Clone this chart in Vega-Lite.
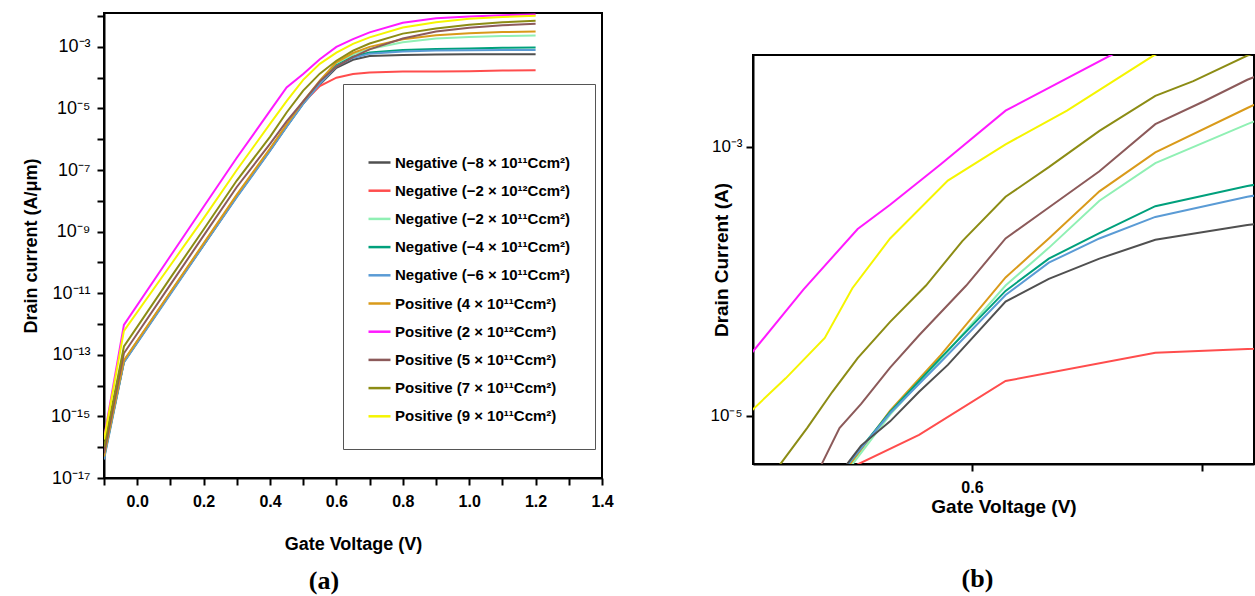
{
  "$schema": "https://vega.github.io/schema/vega-lite/v6.json",
  "padding": {"left": 21, "top": 6, "right": 0, "bottom": 0},
  "config": {
    "font": "Liberation Sans",
    "view": {"stroke": "black", "strokeWidth": 2},
    "axis": {"domainColor": "black", "domainWidth": 2, "tickColor": "black", "tickWidth": 2, "tickSize": 7, "grid": false, "labelColor": "black", "titleColor": "black", "labelFont": "Liberation Sans", "titleFont": "Liberation Sans", "labelOverlap": false, "labelFlush": false}
  },
  "datasets": {
    "a": [
      {"series": "Negative (−8 × 10¹¹Ccm²)", "v": -0.1, "log_i": -16.3}, {"series": "Negative (−8 × 10¹¹Ccm²)", "v": -0.04, "log_i": -13.23}, {"series": "Negative (−8 × 10¹¹Ccm²)", "v": 0.1, "log_i": -11.0}, {"series": "Negative (−8 × 10¹¹Ccm²)", "v": 0.2, "log_i": -9.43}, {"series": "Negative (−8 × 10¹¹Ccm²)", "v": 0.3, "log_i": -7.86}, {"series": "Negative (−8 × 10¹¹Ccm²)", "v": 0.4, "log_i": -6.36}, {"series": "Negative (−8 × 10¹¹Ccm²)", "v": 0.45, "log_i": -5.58}, {"series": "Negative (−8 × 10¹¹Ccm²)", "v": 0.5, "log_i": -4.84}, {"series": "Negative (−8 × 10¹¹Ccm²)", "v": 0.55, "log_i": -4.22}, {"series": "Negative (−8 × 10¹¹Ccm²)", "v": 0.6, "log_i": -3.68}, {"series": "Negative (−8 × 10¹¹Ccm²)", "v": 0.65, "log_i": -3.42}, {"series": "Negative (−8 × 10¹¹Ccm²)", "v": 0.7, "log_i": -3.3}, {"series": "Negative (−8 × 10¹¹Ccm²)", "v": 0.8, "log_i": -3.26}, {"series": "Negative (−8 × 10¹¹Ccm²)", "v": 0.9, "log_i": -3.25}, {"series": "Negative (−8 × 10¹¹Ccm²)", "v": 1.0, "log_i": -3.24}, {"series": "Negative (−8 × 10¹¹Ccm²)", "v": 1.1, "log_i": -3.24}, {"series": "Negative (−8 × 10¹¹Ccm²)", "v": 1.2, "log_i": -3.24},
      {"series": "Negative (−2 × 10¹²Ccm²)", "v": -0.1, "log_i": -16.28}, {"series": "Negative (−2 × 10¹²Ccm²)", "v": -0.04, "log_i": -13.2}, {"series": "Negative (−2 × 10¹²Ccm²)", "v": 0.1, "log_i": -10.98}, {"series": "Negative (−2 × 10¹²Ccm²)", "v": 0.2, "log_i": -9.42}, {"series": "Negative (−2 × 10¹²Ccm²)", "v": 0.3, "log_i": -7.85}, {"series": "Negative (−2 × 10¹²Ccm²)", "v": 0.4, "log_i": -6.33}, {"series": "Negative (−2 × 10¹²Ccm²)", "v": 0.45, "log_i": -5.55}, {"series": "Negative (−2 × 10¹²Ccm²)", "v": 0.5, "log_i": -4.82}, {"series": "Negative (−2 × 10¹²Ccm²)", "v": 0.55, "log_i": -4.27}, {"series": "Negative (−2 × 10¹²Ccm²)", "v": 0.6, "log_i": -4.0}, {"series": "Negative (−2 × 10¹²Ccm²)", "v": 0.65, "log_i": -3.88}, {"series": "Negative (−2 × 10¹²Ccm²)", "v": 0.7, "log_i": -3.83}, {"series": "Negative (−2 × 10¹²Ccm²)", "v": 0.8, "log_i": -3.8}, {"series": "Negative (−2 × 10¹²Ccm²)", "v": 0.9, "log_i": -3.8}, {"series": "Negative (−2 × 10¹²Ccm²)", "v": 1.0, "log_i": -3.79}, {"series": "Negative (−2 × 10¹²Ccm²)", "v": 1.1, "log_i": -3.77}, {"series": "Negative (−2 × 10¹²Ccm²)", "v": 1.2, "log_i": -3.76},
      {"series": "Negative (−2 × 10¹¹Ccm²)", "v": -0.1, "log_i": -16.32}, {"series": "Negative (−2 × 10¹¹Ccm²)", "v": -0.04, "log_i": -13.2}, {"series": "Negative (−2 × 10¹¹Ccm²)", "v": 0.1, "log_i": -10.98}, {"series": "Negative (−2 × 10¹¹Ccm²)", "v": 0.2, "log_i": -9.4}, {"series": "Negative (−2 × 10¹¹Ccm²)", "v": 0.3, "log_i": -7.83}, {"series": "Negative (−2 × 10¹¹Ccm²)", "v": 0.4, "log_i": -6.33}, {"series": "Negative (−2 × 10¹¹Ccm²)", "v": 0.45, "log_i": -5.55}, {"series": "Negative (−2 × 10¹¹Ccm²)", "v": 0.5, "log_i": -4.8}, {"series": "Negative (−2 × 10¹¹Ccm²)", "v": 0.55, "log_i": -4.13}, {"series": "Negative (−2 × 10¹¹Ccm²)", "v": 0.6, "log_i": -3.53}, {"series": "Negative (−2 × 10¹¹Ccm²)", "v": 0.65, "log_i": -3.25}, {"series": "Negative (−2 × 10¹¹Ccm²)", "v": 0.7, "log_i": -3.07}, {"series": "Negative (−2 × 10¹¹Ccm²)", "v": 0.8, "log_i": -2.85}, {"series": "Negative (−2 × 10¹¹Ccm²)", "v": 0.9, "log_i": -2.73}, {"series": "Negative (−2 × 10¹¹Ccm²)", "v": 1.0, "log_i": -2.68}, {"series": "Negative (−2 × 10¹¹Ccm²)", "v": 1.1, "log_i": -2.65}, {"series": "Negative (−2 × 10¹¹Ccm²)", "v": 1.2, "log_i": -2.63},
      {"series": "Negative (−4 × 10¹¹Ccm²)", "v": -0.1, "log_i": -16.35}, {"series": "Negative (−4 × 10¹¹Ccm²)", "v": -0.04, "log_i": -13.22}, {"series": "Negative (−4 × 10¹¹Ccm²)", "v": 0.1, "log_i": -11.0}, {"series": "Negative (−4 × 10¹¹Ccm²)", "v": 0.2, "log_i": -9.43}, {"series": "Negative (−4 × 10¹¹Ccm²)", "v": 0.3, "log_i": -7.85}, {"series": "Negative (−4 × 10¹¹Ccm²)", "v": 0.4, "log_i": -6.35}, {"series": "Negative (−4 × 10¹¹Ccm²)", "v": 0.45, "log_i": -5.58}, {"series": "Negative (−4 × 10¹¹Ccm²)", "v": 0.5, "log_i": -4.83}, {"series": "Negative (−4 × 10¹¹Ccm²)", "v": 0.55, "log_i": -4.18}, {"series": "Negative (−4 × 10¹¹Ccm²)", "v": 0.6, "log_i": -3.6}, {"series": "Negative (−4 × 10¹¹Ccm²)", "v": 0.65, "log_i": -3.32}, {"series": "Negative (−4 × 10¹¹Ccm²)", "v": 0.7, "log_i": -3.18}, {"series": "Negative (−4 × 10¹¹Ccm²)", "v": 0.8, "log_i": -3.1}, {"series": "Negative (−4 × 10¹¹Ccm²)", "v": 0.9, "log_i": -3.07}, {"series": "Negative (−4 × 10¹¹Ccm²)", "v": 1.0, "log_i": -3.05}, {"series": "Negative (−4 × 10¹¹Ccm²)", "v": 1.1, "log_i": -3.03}, {"series": "Negative (−4 × 10¹¹Ccm²)", "v": 1.2, "log_i": -3.02},
      {"series": "Negative (−6 × 10¹¹Ccm²)", "v": -0.1, "log_i": -16.4}, {"series": "Negative (−6 × 10¹¹Ccm²)", "v": -0.04, "log_i": -13.25}, {"series": "Negative (−6 × 10¹¹Ccm²)", "v": 0.1, "log_i": -11.03}, {"series": "Negative (−6 × 10¹¹Ccm²)", "v": 0.2, "log_i": -9.45}, {"series": "Negative (−6 × 10¹¹Ccm²)", "v": 0.3, "log_i": -7.88}, {"series": "Negative (−6 × 10¹¹Ccm²)", "v": 0.4, "log_i": -6.38}, {"series": "Negative (−6 × 10¹¹Ccm²)", "v": 0.45, "log_i": -5.6}, {"series": "Negative (−6 × 10¹¹Ccm²)", "v": 0.5, "log_i": -4.85}, {"series": "Negative (−6 × 10¹¹Ccm²)", "v": 0.55, "log_i": -4.2}, {"series": "Negative (−6 × 10¹¹Ccm²)", "v": 0.6, "log_i": -3.63}, {"series": "Negative (−6 × 10¹¹Ccm²)", "v": 0.65, "log_i": -3.36}, {"series": "Negative (−6 × 10¹¹Ccm²)", "v": 0.7, "log_i": -3.22}, {"series": "Negative (−6 × 10¹¹Ccm²)", "v": 0.8, "log_i": -3.15}, {"series": "Negative (−6 × 10¹¹Ccm²)", "v": 0.9, "log_i": -3.12}, {"series": "Negative (−6 × 10¹¹Ccm²)", "v": 1.0, "log_i": -3.11}, {"series": "Negative (−6 × 10¹¹Ccm²)", "v": 1.1, "log_i": -3.1}, {"series": "Negative (−6 × 10¹¹Ccm²)", "v": 1.2, "log_i": -3.1},
      {"series": "Positive (4 × 10¹¹Ccm²)", "v": -0.1, "log_i": -16.3}, {"series": "Positive (4 × 10¹¹Ccm²)", "v": -0.04, "log_i": -13.18}, {"series": "Positive (4 × 10¹¹Ccm²)", "v": 0.1, "log_i": -10.96}, {"series": "Positive (4 × 10¹¹Ccm²)", "v": 0.2, "log_i": -9.38}, {"series": "Positive (4 × 10¹¹Ccm²)", "v": 0.3, "log_i": -7.8}, {"series": "Positive (4 × 10¹¹Ccm²)", "v": 0.4, "log_i": -6.3}, {"series": "Positive (4 × 10¹¹Ccm²)", "v": 0.45, "log_i": -5.52}, {"series": "Positive (4 × 10¹¹Ccm²)", "v": 0.5, "log_i": -4.77}, {"series": "Positive (4 × 10¹¹Ccm²)", "v": 0.55, "log_i": -4.1}, {"series": "Positive (4 × 10¹¹Ccm²)", "v": 0.6, "log_i": -3.5}, {"series": "Positive (4 × 10¹¹Ccm²)", "v": 0.65, "log_i": -3.2}, {"series": "Positive (4 × 10¹¹Ccm²)", "v": 0.7, "log_i": -3.0}, {"series": "Positive (4 × 10¹¹Ccm²)", "v": 0.8, "log_i": -2.75}, {"series": "Positive (4 × 10¹¹Ccm²)", "v": 0.9, "log_i": -2.62}, {"series": "Positive (4 × 10¹¹Ccm²)", "v": 1.0, "log_i": -2.56}, {"series": "Positive (4 × 10¹¹Ccm²)", "v": 1.1, "log_i": -2.52}, {"series": "Positive (4 × 10¹¹Ccm²)", "v": 1.2, "log_i": -2.5},
      {"series": "Positive (2 × 10¹²Ccm²)", "v": -0.1, "log_i": -15.71}, {"series": "Positive (2 × 10¹²Ccm²)", "v": -0.04, "log_i": -12.03}, {"series": "Positive (2 × 10¹²Ccm²)", "v": 0.1, "log_i": -9.79}, {"series": "Positive (2 × 10¹²Ccm²)", "v": 0.2, "log_i": -8.19}, {"series": "Positive (2 × 10¹²Ccm²)", "v": 0.3, "log_i": -6.6}, {"series": "Positive (2 × 10¹²Ccm²)", "v": 0.4, "log_i": -5.08}, {"series": "Positive (2 × 10¹²Ccm²)", "v": 0.45, "log_i": -4.32}, {"series": "Positive (2 × 10¹²Ccm²)", "v": 0.5, "log_i": -3.88}, {"series": "Positive (2 × 10¹²Ccm²)", "v": 0.55, "log_i": -3.4}, {"series": "Positive (2 × 10¹²Ccm²)", "v": 0.6, "log_i": -3.0}, {"series": "Positive (2 × 10¹²Ccm²)", "v": 0.65, "log_i": -2.75}, {"series": "Positive (2 × 10¹²Ccm²)", "v": 0.7, "log_i": -2.53}, {"series": "Positive (2 × 10¹²Ccm²)", "v": 0.8, "log_i": -2.22}, {"series": "Positive (2 × 10¹²Ccm²)", "v": 0.9, "log_i": -2.07}, {"series": "Positive (2 × 10¹²Ccm²)", "v": 1.0, "log_i": -2.01}, {"series": "Positive (2 × 10¹²Ccm²)", "v": 1.1, "log_i": -1.97}, {"series": "Positive (2 × 10¹²Ccm²)", "v": 1.2, "log_i": -1.95},
      {"series": "Positive (5 × 10¹¹Ccm²)", "v": -0.1, "log_i": -16.2}, {"series": "Positive (5 × 10¹¹Ccm²)", "v": -0.04, "log_i": -12.95}, {"series": "Positive (5 × 10¹¹Ccm²)", "v": 0.1, "log_i": -10.72}, {"series": "Positive (5 × 10¹¹Ccm²)", "v": 0.2, "log_i": -9.13}, {"series": "Positive (5 × 10¹¹Ccm²)", "v": 0.3, "log_i": -7.55}, {"series": "Positive (5 × 10¹¹Ccm²)", "v": 0.4, "log_i": -6.15}, {"series": "Positive (5 × 10¹¹Ccm²)", "v": 0.45, "log_i": -5.42}, {"series": "Positive (5 × 10¹¹Ccm²)", "v": 0.5, "log_i": -4.77}, {"series": "Positive (5 × 10¹¹Ccm²)", "v": 0.55, "log_i": -4.12}, {"series": "Positive (5 × 10¹¹Ccm²)", "v": 0.6, "log_i": -3.64}, {"series": "Positive (5 × 10¹¹Ccm²)", "v": 0.65, "log_i": -3.33}, {"series": "Positive (5 × 10¹¹Ccm²)", "v": 0.7, "log_i": -3.08}, {"series": "Positive (5 × 10¹¹Ccm²)", "v": 0.8, "log_i": -2.73}, {"series": "Positive (5 × 10¹¹Ccm²)", "v": 0.9, "log_i": -2.5}, {"series": "Positive (5 × 10¹¹Ccm²)", "v": 1.0, "log_i": -2.38}, {"series": "Positive (5 × 10¹¹Ccm²)", "v": 1.1, "log_i": -2.3}, {"series": "Positive (5 × 10¹¹Ccm²)", "v": 1.2, "log_i": -2.25},
      {"series": "Positive (7 × 10¹¹Ccm²)", "v": -0.1, "log_i": -16.0}, {"series": "Positive (7 × 10¹¹Ccm²)", "v": -0.04, "log_i": -12.73}, {"series": "Positive (7 × 10¹¹Ccm²)", "v": 0.1, "log_i": -10.5}, {"series": "Positive (7 × 10¹¹Ccm²)", "v": 0.2, "log_i": -8.93}, {"series": "Positive (7 × 10¹¹Ccm²)", "v": 0.3, "log_i": -7.34}, {"series": "Positive (7 × 10¹¹Ccm²)", "v": 0.4, "log_i": -5.92}, {"series": "Positive (7 × 10¹¹Ccm²)", "v": 0.45, "log_i": -5.13}, {"series": "Positive (7 × 10¹¹Ccm²)", "v": 0.5, "log_i": -4.42}, {"series": "Positive (7 × 10¹¹Ccm²)", "v": 0.55, "log_i": -3.87}, {"series": "Positive (7 × 10¹¹Ccm²)", "v": 0.6, "log_i": -3.45}, {"series": "Positive (7 × 10¹¹Ccm²)", "v": 0.65, "log_i": -3.12}, {"series": "Positive (7 × 10¹¹Ccm²)", "v": 0.7, "log_i": -2.89}, {"series": "Positive (7 × 10¹¹Ccm²)", "v": 0.8, "log_i": -2.57}, {"series": "Positive (7 × 10¹¹Ccm²)", "v": 0.9, "log_i": -2.4}, {"series": "Positive (7 × 10¹¹Ccm²)", "v": 1.0, "log_i": -2.28}, {"series": "Positive (7 × 10¹¹Ccm²)", "v": 1.1, "log_i": -2.2}, {"series": "Positive (7 × 10¹¹Ccm²)", "v": 1.2, "log_i": -2.15},
      {"series": "Positive (9 × 10¹¹Ccm²)", "v": -0.1, "log_i": -15.75}, {"series": "Positive (9 × 10¹¹Ccm²)", "v": -0.04, "log_i": -12.22}, {"series": "Positive (9 × 10¹¹Ccm²)", "v": 0.1, "log_i": -10.09}, {"series": "Positive (9 × 10¹¹Ccm²)", "v": 0.2, "log_i": -8.57}, {"series": "Positive (9 × 10¹¹Ccm²)", "v": 0.3, "log_i": -7.0}, {"series": "Positive (9 × 10¹¹Ccm²)", "v": 0.4, "log_i": -5.5}, {"series": "Positive (9 × 10¹¹Ccm²)", "v": 0.45, "log_i": -4.76}, {"series": "Positive (9 × 10¹¹Ccm²)", "v": 0.5, "log_i": -4.07}, {"series": "Positive (9 × 10¹¹Ccm²)", "v": 0.55, "log_i": -3.55}, {"series": "Positive (9 × 10¹¹Ccm²)", "v": 0.6, "log_i": -3.19}, {"series": "Positive (9 × 10¹¹Ccm²)", "v": 0.65, "log_i": -2.9}, {"series": "Positive (9 × 10¹¹Ccm²)", "v": 0.7, "log_i": -2.69}, {"series": "Positive (9 × 10¹¹Ccm²)", "v": 0.8, "log_i": -2.37}, {"series": "Positive (9 × 10¹¹Ccm²)", "v": 0.9, "log_i": -2.2}, {"series": "Positive (9 × 10¹¹Ccm²)", "v": 1.0, "log_i": -2.09}, {"series": "Positive (9 × 10¹¹Ccm²)", "v": 1.1, "log_i": -2.03}, {"series": "Positive (9 × 10¹¹Ccm²)", "v": 1.2, "log_i": -1.99}
    ],
    "b": [
      {"series": "Positive (2 × 10¹²Ccm²)", "v": 0.49, "log_i": -4.85}, {"series": "Positive (2 × 10¹²Ccm²)", "v": 0.5048, "log_i": -4.52}, {"series": "Positive (2 × 10¹²Ccm²)", "v": 0.5267, "log_i": -4.06}, {"series": "Positive (2 × 10¹²Ccm²)", "v": 0.5503, "log_i": -3.61}, {"series": "Positive (2 × 10¹²Ccm²)", "v": 0.5644, "log_i": -3.43}, {"series": "Positive (2 × 10¹²Ccm²)", "v": 0.5863, "log_i": -3.13}, {"series": "Positive (2 × 10¹²Ccm²)", "v": 0.6146, "log_i": -2.73}, {"series": "Positive (2 × 10¹²Ccm²)", "v": 0.6334, "log_i": -2.56}, {"series": "Positive (2 × 10¹²Ccm²)", "v": 0.6601, "log_i": -2.32}, {"series": "Positive (2 × 10¹²Ccm²)", "v": 0.7, "log_i": -2.0},
      {"series": "Positive (9 × 10¹¹Ccm²)", "v": 0.49, "log_i": -5.2}, {"series": "Positive (9 × 10¹¹Ccm²)", "v": 0.5048, "log_i": -4.95}, {"series": "Positive (9 × 10¹¹Ccm²)", "v": 0.519, "log_i": -4.72}, {"series": "Positive (9 × 10¹¹Ccm²)", "v": 0.536, "log_i": -4.42}, {"series": "Positive (9 × 10¹¹Ccm²)", "v": 0.548, "log_i": -4.05}, {"series": "Positive (9 × 10¹¹Ccm²)", "v": 0.5644, "log_i": -3.68}, {"series": "Positive (9 × 10¹¹Ccm²)", "v": 0.5895, "log_i": -3.25}, {"series": "Positive (9 × 10¹¹Ccm²)", "v": 0.6146, "log_i": -2.98}, {"series": "Positive (9 × 10¹¹Ccm²)", "v": 0.6413, "log_i": -2.73}, {"series": "Positive (9 × 10¹¹Ccm²)", "v": 0.6789, "log_i": -2.32}, {"series": "Positive (9 × 10¹¹Ccm²)", "v": 0.72, "log_i": -2.0},
      {"series": "Positive (7 × 10¹¹Ccm²)", "v": 0.505, "log_i": -5.65}, {"series": "Positive (7 × 10¹¹Ccm²)", "v": 0.5166, "log_i": -5.36}, {"series": "Positive (7 × 10¹¹Ccm²)", "v": 0.5283, "log_i": -5.09}, {"series": "Positive (7 × 10¹¹Ccm²)", "v": 0.5393, "log_i": -4.82}, {"series": "Positive (7 × 10¹¹Ccm²)", "v": 0.5503, "log_i": -4.57}, {"series": "Positive (7 × 10¹¹Ccm²)", "v": 0.5644, "log_i": -4.3}, {"series": "Positive (7 × 10¹¹Ccm²)", "v": 0.58, "log_i": -4.03}, {"series": "Positive (7 × 10¹¹Ccm²)", "v": 0.5958, "log_i": -3.7}, {"series": "Positive (7 × 10¹¹Ccm²)", "v": 0.6146, "log_i": -3.37}, {"series": "Positive (7 × 10¹¹Ccm²)", "v": 0.6334, "log_i": -3.15}, {"series": "Positive (7 × 10¹¹Ccm²)", "v": 0.6554, "log_i": -2.88}, {"series": "Positive (7 × 10¹¹Ccm²)", "v": 0.6797, "log_i": -2.62}, {"series": "Positive (7 × 10¹¹Ccm²)", "v": 0.6962, "log_i": -2.51}, {"series": "Positive (7 × 10¹¹Ccm²)", "v": 0.7197, "log_i": -2.32}, {"series": "Positive (7 × 10¹¹Ccm²)", "v": 0.73, "log_i": -2.26},
      {"series": "Positive (5 × 10¹¹Ccm²)", "v": 0.525, "log_i": -5.6}, {"series": "Positive (5 × 10¹¹Ccm²)", "v": 0.5346, "log_i": -5.36}, {"series": "Positive (5 × 10¹¹Ccm²)", "v": 0.5424, "log_i": -5.09}, {"series": "Positive (5 × 10¹¹Ccm²)", "v": 0.5518, "log_i": -4.91}, {"series": "Positive (5 × 10¹¹Ccm²)", "v": 0.5644, "log_i": -4.64}, {"series": "Positive (5 × 10¹¹Ccm²)", "v": 0.577, "log_i": -4.4}, {"series": "Positive (5 × 10¹¹Ccm²)", "v": 0.5975, "log_i": -4.03}, {"series": "Positive (5 × 10¹¹Ccm²)", "v": 0.6146, "log_i": -3.68}, {"series": "Positive (5 × 10¹¹Ccm²)", "v": 0.6334, "log_i": -3.45}, {"series": "Positive (5 × 10¹¹Ccm²)", "v": 0.6554, "log_i": -3.18}, {"series": "Positive (5 × 10¹¹Ccm²)", "v": 0.6797, "log_i": -2.83}, {"series": "Positive (5 × 10¹¹Ccm²)", "v": 0.7009, "log_i": -2.66}, {"series": "Positive (5 × 10¹¹Ccm²)", "v": 0.7197, "log_i": -2.5}, {"series": "Positive (5 × 10¹¹Ccm²)", "v": 0.73, "log_i": -2.43},
      {"series": "Positive (4 × 10¹¹Ccm²)", "v": 0.54, "log_i": -5.55}, {"series": "Positive (4 × 10¹¹Ccm²)", "v": 0.5471, "log_i": -5.36}, {"series": "Positive (4 × 10¹¹Ccm²)", "v": 0.5644, "log_i": -4.96}, {"series": "Positive (4 × 10¹¹Ccm²)", "v": 0.5863, "log_i": -4.55}, {"series": "Positive (4 × 10¹¹Ccm²)", "v": 0.6146, "log_i": -3.97}, {"series": "Positive (4 × 10¹¹Ccm²)", "v": 0.6334, "log_i": -3.68}, {"series": "Positive (4 × 10¹¹Ccm²)", "v": 0.6554, "log_i": -3.33}, {"series": "Positive (4 × 10¹¹Ccm²)", "v": 0.6797, "log_i": -3.04}, {"series": "Positive (4 × 10¹¹Ccm²)", "v": 0.7197, "log_i": -2.71}, {"series": "Positive (4 × 10¹¹Ccm²)", "v": 0.73, "log_i": -2.63},
      {"series": "Negative (−2 × 10¹¹Ccm²)", "v": 0.541, "log_i": -5.55}, {"series": "Negative (−2 × 10¹¹Ccm²)", "v": 0.548, "log_i": -5.36}, {"series": "Negative (−2 × 10¹¹Ccm²)", "v": 0.5644, "log_i": -4.99}, {"series": "Negative (−2 × 10¹¹Ccm²)", "v": 0.5863, "log_i": -4.58}, {"series": "Negative (−2 × 10¹¹Ccm²)", "v": 0.6146, "log_i": -4.03}, {"series": "Negative (−2 × 10¹¹Ccm²)", "v": 0.6334, "log_i": -3.75}, {"series": "Negative (−2 × 10¹¹Ccm²)", "v": 0.6554, "log_i": -3.4}, {"series": "Negative (−2 × 10¹¹Ccm²)", "v": 0.6797, "log_i": -3.12}, {"series": "Negative (−2 × 10¹¹Ccm²)", "v": 0.7197, "log_i": -2.83}, {"series": "Negative (−2 × 10¹¹Ccm²)", "v": 0.73, "log_i": -2.76},
      {"series": "Negative (−4 × 10¹¹Ccm²)", "v": 0.539, "log_i": -5.55}, {"series": "Negative (−4 × 10¹¹Ccm²)", "v": 0.546, "log_i": -5.36}, {"series": "Negative (−4 × 10¹¹Ccm²)", "v": 0.5644, "log_i": -4.97}, {"series": "Negative (−4 × 10¹¹Ccm²)", "v": 0.5863, "log_i": -4.57}, {"series": "Negative (−4 × 10¹¹Ccm²)", "v": 0.6146, "log_i": -4.07}, {"series": "Negative (−4 × 10¹¹Ccm²)", "v": 0.6334, "log_i": -3.83}, {"series": "Negative (−4 × 10¹¹Ccm²)", "v": 0.6554, "log_i": -3.64}, {"series": "Negative (−4 × 10¹¹Ccm²)", "v": 0.6797, "log_i": -3.44}, {"series": "Negative (−4 × 10¹¹Ccm²)", "v": 0.7197, "log_i": -3.29}, {"series": "Negative (−4 × 10¹¹Ccm²)", "v": 0.73, "log_i": -3.26},
      {"series": "Negative (−6 × 10¹¹Ccm²)", "v": 0.539, "log_i": -5.55}, {"series": "Negative (−6 × 10¹¹Ccm²)", "v": 0.546, "log_i": -5.36}, {"series": "Negative (−6 × 10¹¹Ccm²)", "v": 0.5644, "log_i": -4.98}, {"series": "Negative (−6 × 10¹¹Ccm²)", "v": 0.5863, "log_i": -4.6}, {"series": "Negative (−6 × 10¹¹Ccm²)", "v": 0.6146, "log_i": -4.1}, {"series": "Negative (−6 × 10¹¹Ccm²)", "v": 0.6334, "log_i": -3.86}, {"series": "Negative (−6 × 10¹¹Ccm²)", "v": 0.6554, "log_i": -3.68}, {"series": "Negative (−6 × 10¹¹Ccm²)", "v": 0.6797, "log_i": -3.52}, {"series": "Negative (−6 × 10¹¹Ccm²)", "v": 0.7197, "log_i": -3.37}, {"series": "Negative (−6 × 10¹¹Ccm²)", "v": 0.73, "log_i": -3.34},
      {"series": "Negative (−8 × 10¹¹Ccm²)", "v": 0.539, "log_i": -5.55}, {"series": "Negative (−8 × 10¹¹Ccm²)", "v": 0.5456, "log_i": -5.36}, {"series": "Negative (−8 × 10¹¹Ccm²)", "v": 0.5518, "log_i": -5.22}, {"series": "Negative (−8 × 10¹¹Ccm²)", "v": 0.5644, "log_i": -5.04}, {"series": "Negative (−8 × 10¹¹Ccm²)", "v": 0.577, "log_i": -4.82}, {"series": "Negative (−8 × 10¹¹Ccm²)", "v": 0.5895, "log_i": -4.62}, {"series": "Negative (−8 × 10¹¹Ccm²)", "v": 0.6146, "log_i": -4.15}, {"series": "Negative (−8 × 10¹¹Ccm²)", "v": 0.6334, "log_i": -3.98}, {"series": "Negative (−8 × 10¹¹Ccm²)", "v": 0.6554, "log_i": -3.83}, {"series": "Negative (−8 × 10¹¹Ccm²)", "v": 0.6797, "log_i": -3.69}, {"series": "Negative (−8 × 10¹¹Ccm²)", "v": 0.7197, "log_i": -3.58}, {"series": "Negative (−8 × 10¹¹Ccm²)", "v": 0.73, "log_i": -3.56},
      {"series": "Negative (−2 × 10¹²Ccm²)", "v": 0.54, "log_i": -5.5}, {"series": "Negative (−2 × 10¹²Ccm²)", "v": 0.5503, "log_i": -5.36}, {"series": "Negative (−2 × 10¹²Ccm²)", "v": 0.577, "log_i": -5.14}, {"series": "Negative (−2 × 10¹²Ccm²)", "v": 0.6146, "log_i": -4.74}, {"series": "Negative (−2 × 10¹²Ccm²)", "v": 0.6797, "log_i": -4.53}, {"series": "Negative (−2 × 10¹²Ccm²)", "v": 0.7225, "log_i": -4.5}, {"series": "Negative (−2 × 10¹²Ccm²)", "v": 0.73, "log_i": -4.49}
    ]
  },
  "resolve": {"scale": {"color": "independent"}, "legend": {"color": "independent"}},
  "spacing": 94,
  "hconcat": [
    {
      "width": 498,
      "height": 465,
      "data": {"name": "a"},
      "mark": {"type": "line", "strokeWidth": 2, "clip": true},
      "encoding": {
        "x": {"field": "v", "type": "quantitative", "scale": {"domain": [-0.1, 1.4], "nice": false, "zero": false},
          "axis": {"values": [-0.1, 0, 0.1, 0.2, 0.3, 0.4, 0.5, 0.6, 0.7, 0.8, 0.9, 1.0, 1.1, 1.2, 1.3, 1.4],
            "labelExpr": "datum.value < 0 || abs(round(datum.value * 10)) % 2 == 1 ? '' : format(datum.value, '.1f')",
            "title": "Gate Voltage (V)", "labelFontSize": 16, "labelFontWeight": "bold", "labelPadding": 8,
            "titleFontSize": 18, "titleFontWeight": "bold", "titlePadding": 26}},
        "y": {"field": "log_i", "type": "quantitative", "scale": {"domain": [-17, -1.9], "nice": false, "zero": false},
          "axis": {"values": [-17, -16, -15, -14, -13, -12, -11, -10, -9, -8, -7, -6, -5, -4, -3, -2],
            "labelExpr": "datum.value % 2 == 0 ? '' : '10⁻' + replace(replace(replace(replace(replace(toString(abs(datum.value)), regexp('1', 'g'), '¹'), '3', '³'), '5', '⁵'), '7', '⁷'), '9', '⁹')",
            "title": "Drain current (A/μm)", "labelFontSize": 18, "labelPadding": 7,
            "titleFontSize": 18, "titleFontWeight": "bold", "titlePadding": 10}},
        "color": {"field": "series", "type": "nominal",
          "scale": {"domain": ["Negative (−8 × 10¹¹Ccm²)", "Negative (−2 × 10¹²Ccm²)", "Negative (−2 × 10¹¹Ccm²)", "Negative (−4 × 10¹¹Ccm²)", "Negative (−6 × 10¹¹Ccm²)", "Positive (4 × 10¹¹Ccm²)", "Positive (2 × 10¹²Ccm²)", "Positive (5 × 10¹¹Ccm²)", "Positive (7 × 10¹¹Ccm²)", "Positive (9 × 10¹¹Ccm²)"],
            "range": ["#505050", "#ff4d4d", "#90f0b4", "#00a07c", "#5a9bd5", "#d99a1a", "#ff1aff", "#8c5a5a", "#8c8c14", "#f5f500"]},
          "legend": {"orient": "none", "legendX": 239, "legendY": 71, "direction": "vertical", "title": " ", "titleFontSize": 20, "titlePadding": 22,
            "strokeColor": "#555555", "fillColor": "white", "padding": 24, "symbolType": "stroke", "symbolSize": 484, "symbolStrokeWidth": 2.5,
            "labelFontSize": 15, "labelFontWeight": "bold", "labelColor": "black", "labelFont": "Liberation Sans", "rowPadding": 7.2, "labelLimit": 300, "labelOffset": 3}}
      },
      "title": {"text": "(a)", "orient": "bottom", "anchor": "middle", "font": "Liberation Serif", "fontSize": 26, "fontWeight": "bold", "color": "black", "offset": 15, "dx": -29}
    },
    {
      "spacing": 0,
      "vconcat": [
        {"width": 10, "height": 41, "view": {"stroke": null}, "data": {"values": [{"k": 1}]}, "mark": {"type": "point", "opacity": 0}, "encoding": {}},
        {
          "width": 501,
          "height": 409,
          "data": {"name": "b"},
          "mark": {"type": "line", "strokeWidth": 2, "clip": true},
          "encoding": {
            "x": {"field": "v", "type": "quantitative", "scale": {"domain": [0.5048, 0.7226], "nice": false, "zero": false},
              "axis": {"values": [0.6, 0.7], "labelExpr": "datum.value < 0.65 ? '0.6' : ''",
                "title": "Gate Voltage (V)", "labelFontSize": 16, "labelFontWeight": "bold", "labelPadding": 8,
                "titleFontSize": 19, "titleFontWeight": "bold", "titlePadding": 2}},
            "y": {"field": "log_i", "type": "quantitative", "scale": {"domain": [-5.357, -2.316], "nice": false, "zero": false},
              "axis": {"values": [-5, -3],
                "labelExpr": "'10⁻' + replace(replace(toString(abs(datum.value)), '3', '³'), '5', '⁵')",
                "title": "Drain Current (A)", "labelFontSize": 17, "labelPadding": 4,
                "titleFontSize": 19, "titleFontWeight": "bold", "titleX": -22}},
            "color": {"field": "series", "type": "nominal",
              "scale": {"domain": ["Negative (−8 × 10¹¹Ccm²)", "Negative (−2 × 10¹²Ccm²)", "Negative (−2 × 10¹¹Ccm²)", "Negative (−4 × 10¹¹Ccm²)", "Negative (−6 × 10¹¹Ccm²)", "Positive (4 × 10¹¹Ccm²)", "Positive (2 × 10¹²Ccm²)", "Positive (5 × 10¹¹Ccm²)", "Positive (7 × 10¹¹Ccm²)", "Positive (9 × 10¹¹Ccm²)"],
                "range": ["#505050", "#ff4d4d", "#90f0b4", "#00a07c", "#5a9bd5", "#d99a1a", "#ff1aff", "#8c5a5a", "#8c8c14", "#f5f500"]},
              "legend": null}
          },
          "title": {"text": "(b)", "orient": "bottom", "anchor": "middle", "font": "Liberation Serif", "fontSize": 26, "fontWeight": "bold", "color": "black", "offset": 50, "dx": -26}
        }
      ]
    }
  ]
}
